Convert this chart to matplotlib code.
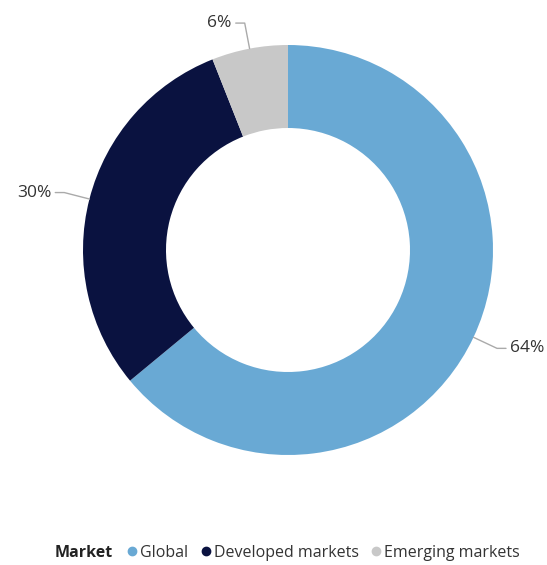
import numpy as np
import matplotlib.pyplot as plt
from matplotlib.lines import Line2D

plt.rcParams['font.family'] = ['Open Sans', 'DejaVu Sans']

markets = ['Global', 'Developed markets', 'Emerging markets']
shares = [64, 30, 6]
colors = ['#69A9D4', '#0A1240', '#C8C8C8']

W, H = 547, 565
fig = plt.figure(figsize=(W / 100, H / 100), dpi=100)
ax = fig.add_axes([0, 0, 1, 1])

cx, cy, r = 288, 315, 205
wedges, _ = ax.pie(shares, colors=colors, startangle=90, counterclock=False,
                   center=(cx, cy), radius=r, frame=True,
                   wedgeprops=dict(width=83, edgecolor='none'))
ax.set_xlim(0, W)
ax.set_ylim(0, H)
ax.set_aspect('equal')
ax.axis('off')

# leader lines and percentage labels
for w, val in zip(wedges, shares):
    mid = np.deg2rad((w.theta1 + w.theta2) / 2)
    x0, y0 = cx + r * np.cos(mid), cy + r * np.sin(mid)
    x1, y1 = cx + (r + 26) * np.cos(mid), cy + (r + 26) * np.sin(mid)
    side = 1 if np.cos(mid) >= 0 else -1
    x2 = x1 + side * 9
    ax.plot([x0, x1, x2], [y0, y1, y1], color='#AAAAAA', lw=1, solid_capstyle='round')
    ax.text(x2 + side * 4, y1, f'{val}%', ha='left' if side > 0 else 'right',
            va='center', fontsize=12.5, color='#333333')

# legend along the bottom
handles = [Line2D([], [], marker='o', ls='none', color=c, markersize=6) for c in colors]
fig.text(55 / W, 1 - 553 / H, 'Market', fontsize=11.5, fontweight='bold',
         color='#222222', ha='left', va='center')
fig.legend(handles, markets, loc='center left', bbox_to_anchor=(116 / W, 1 - 553 / H),
           ncol=3, frameon=False, fontsize=11.5, handletextpad=0.0,
           columnspacing=0.6, handlelength=1.0, borderpad=0, labelcolor='#333333')

fig.savefig('out.png', dpi=100)
